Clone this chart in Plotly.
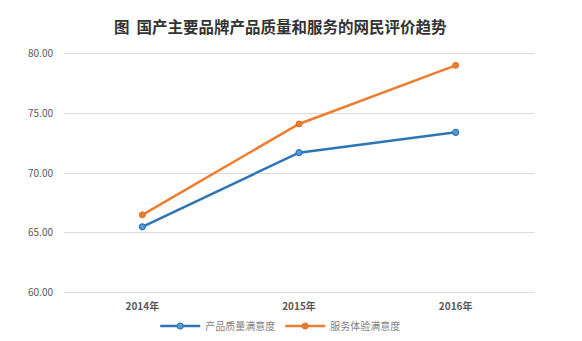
import plotly.graph_objects as go

years = ["2014年", "2015年", "2016年"]
product_quality = [65.5, 71.7, 73.4]
service_experience = [66.5, 74.1, 79.0]
series_names = ["产品质量满意度", "服务体验满意度"]
y_ticks = [60, 65, 70, 75, 80]

font_family = "Noto Sans CJK SC, Noto Sans, sans-serif"

fig = go.Figure()
fig.add_trace(go.Scatter(
    x=years, y=product_quality, name=series_names[0], mode="lines+markers",
    line=dict(color="#2E75B6", width=2.5),
    marker=dict(size=6, color="#5B9BD5", line=dict(color="#2E75B6", width=1.2)),
))
fig.add_trace(go.Scatter(
    x=years, y=service_experience, name=series_names[1], mode="lines+markers",
    line=dict(color="#ED7D31", width=2.5),
    marker=dict(size=6, color="#ED7D31", line=dict(color="#E07020", width=1)),
))

fig.update_layout(
    width=582, height=341,
    margin=dict(l=64, r=48, t=51, b=46, autoexpand=False),
    paper_bgcolor="white", plot_bgcolor="white",
    font=dict(family=font_family, color="#595959"),
    title=dict(text="图  国产主要品牌产品质量和服务的网民评价趋势",
               x=0.46, xref="paper", xanchor="center", y=1 - 28 / 341, yanchor="middle",
               font=dict(size=15.5, color="#333333", family=font_family, weight="bold")),
    showlegend=True,
    legend=dict(orientation="h", x=0.46, xanchor="center", y=1 - 326 / 341, yref="container",
                yanchor="middle", font=dict(size=10, color="#7f7f7f"), tracegroupgap=0,
                itemwidth=40),
)
fig.update_xaxes(
    type="category", range=[-0.5, 2.5], showgrid=False, zeroline=False, showline=False,
    tickfont=dict(size=10, color="#595959", weight="bold"), ticks="", ticklabelstandoff=4,
)
fig.update_yaxes(
    range=[59.8, 80.2], tickvals=y_ticks, tickformat=".2f",
    showgrid=True, gridcolor="#d9d9d9", gridwidth=1, zeroline=False, showline=False,
    tickfont=dict(size=10, color="#595959"), ticks="", ticklabelstandoff=10,
)

fig.write_html("out.html")
